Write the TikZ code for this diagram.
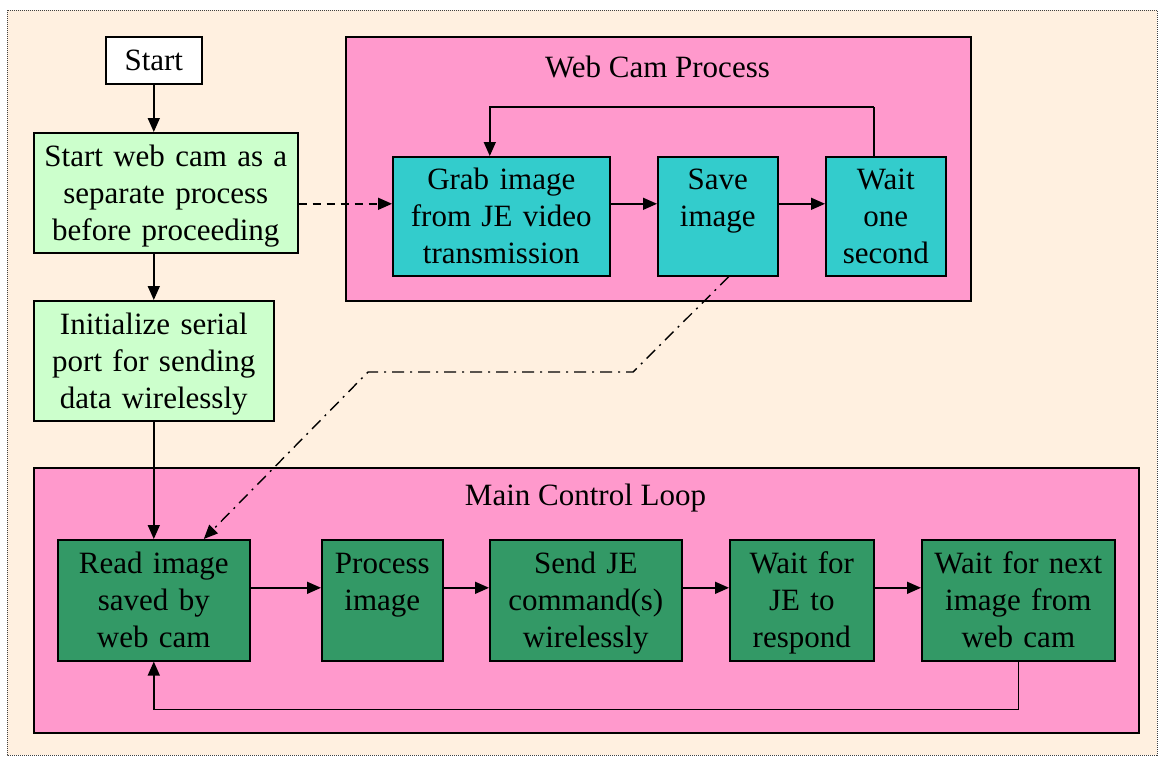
\documentclass[tikz,border=0pt]{standalone}
\usepackage{fontspec}
\setmainfont{Liberation Serif}
\usetikzlibrary{arrows.meta}
\definecolor{peach}{HTML}{FFF0E0}
\definecolor{pinkbox}{HTML}{FF99CC}
\definecolor{cyanbox}{HTML}{33CCCC}
\definecolor{darkgreenbox}{HTML}{339966}
\definecolor{lightgreenbox}{HTML}{CCFFCC}
\begin{document}
\begin{tikzpicture}[x=1pt,y=-1pt,
  font=\fontsize{31}{37}\selectfont,
  box/.style={draw=black, line width=1.6pt, anchor=north west, inner sep=0pt, align=center,
    execute at begin node={\rule{0pt}{31.9pt}}, execute at end node=\strut},
  container/.style={draw=black, line width=1.6pt, fill=pinkbox, anchor=north west, inner sep=0pt},
  arr/.style={line width=1.6pt, -{Triangle[length=14pt,width=12pt]}},
  dashdot/.style={line width=1.4pt, dash pattern=on 12pt off 6pt on 2pt off 6pt, -{Triangle[length=14pt,width=12pt]}}
]
\useasboundingbox (0,0) rectangle (1160,756);
\draw[black!75, densely dotted, line width=1pt, fill=peach] (7,10) rectangle (1157,755);

% containers
\node[container, minimum width=625pt, minimum height=264pt] (webcam) at (345,36) {};
\node[container, minimum width=1105pt, minimum height=265pt] (mainloop) at (33,467) {};
\node (wctitle) at (657.5,67) {Web Cam Process};
\node (mctitle) at (585.5,498) {Main Control Loop};

% left column
\node[box, fill=white, minimum width=96pt, text width=96pt, minimum height=47pt] (start) at (105,36) {Start};
\node[box, fill=lightgreenbox, minimum width=264pt, text width=264pt, minimum height=120pt] (init1) at (33,132) {Start web cam as a\\separate process\\before proceeding};
\node[box, fill=lightgreenbox, minimum width=240pt, text width=240pt, minimum height=120pt] (init2) at (33,300) {Initialize serial\\port for sending\\data wirelessly};

% web cam process boxes
\node[box, fill=cyanbox, minimum width=217pt, text width=217pt, minimum height=119pt] (grab) at (392,156) {Grab image\\from JE video\\transmission};
\node[box, fill=cyanbox, minimum width=120pt, text width=120pt, minimum height=119pt] (save) at (657,156) {Save\\image\\~};
\node[box, fill=cyanbox, minimum width=120pt, text width=120pt, minimum height=119pt] (waitone) at (825,156) {Wait\\one\\second};

% main loop boxes
\node[box, fill=darkgreenbox, minimum width=192pt, text width=192pt, minimum height=121pt] (read) at (57,539) {Read image\\saved by\\web cam};
\node[box, fill=darkgreenbox, minimum width=121pt, text width=121pt, minimum height=121pt] (process) at (321,539) {Process\\image\\~};
\node[box, fill=darkgreenbox, minimum width=192pt, text width=192pt, minimum height=121pt] (send) at (489,539) {Send JE\\command(s)\\wirelessly};
\node[box, fill=darkgreenbox, minimum width=144pt, text width=144pt, minimum height=121pt] (waitje) at (729,539) {Wait for\\JE to\\respond};
\node[box, fill=darkgreenbox, minimum width=193pt, text width=193pt, minimum height=121pt] (waitnext) at (921,539) {Wait for next\\image from\\web cam};

% connectors left column
\draw[arr] (start.south) -- (start.south |- init1.north);
\draw[arr] (start.south |- init1.south) -- (init2.north);
\draw[arr] (init2.south) -- (read.north);
\coordinate (grabin) at ([yshift=12.5pt]grab.west);
\draw[arr, dash pattern=on 8pt off 6pt] (init1.east |- grabin) -- (grabin);

% web cam process connectors
\draw[arr] ([yshift=12.5pt]grab.east) -- ([yshift=12.5pt]save.west);
\draw[arr] ([yshift=12.5pt]save.east) -- ([yshift=12.5pt]waitone.west);
\draw[line width=1.6pt] ([xshift=-12pt]waitone.north) -- ++(0,-49) coordinate (looptop);
\draw[arr] (looptop) -| ([xshift=-11.5pt]grab.north);

% dash-dot link
\coordinate (b1) at (633,372);
\coordinate (b2) at (368,372);
\draw[dashdot] ([xshift=11pt]save.south) -- (b1) -- (b2) -- ([xshift=50pt]read.north);

% main loop connectors
\draw[arr] ([yshift=12.5pt]read.east) -- ([yshift=12.5pt]process.west);
\draw[arr] ([yshift=12.5pt]process.east) -- ([yshift=12.5pt]send.west);
\draw[arr] ([yshift=12.5pt]send.east) -- ([yshift=12.5pt]waitje.west);
\draw[arr] ([yshift=12.5pt]waitje.east) -- ([yshift=12.5pt]waitnext.west);
\draw[line width=1.6pt] (waitnext.south) -- ++(0,48) coordinate (loopbottom);
\draw[arr] (loopbottom) -| (read.south);
\end{tikzpicture}
\end{document}
